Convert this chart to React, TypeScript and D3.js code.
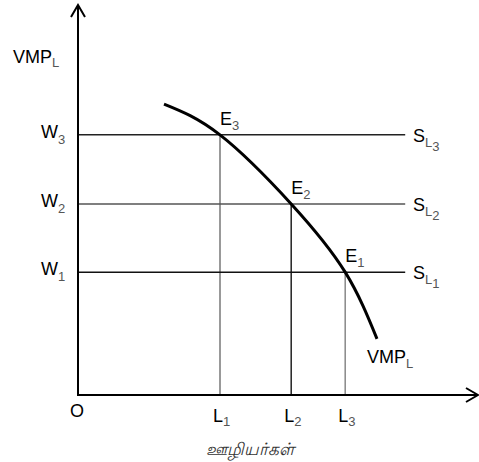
import React from "react";
import * as d3 from "d3";

const W = 479;
const H = 462;

// Labour quantities (x) where VMP meets wage lines
const laborLabels = ["1", "2", "3"];
const laborValues = [3.55, 5.33, 6.68];
// Wage levels (y)
const wageLabels = ["1", "2", "3"];
const wageValues = [3.15, 4.9, 6.67];
// VMP_L curve points
const curveX = [2.15, 3.55, 5.33, 6.68, 7.475];
const curveY = [7.46, 6.67, 4.9, 3.15, 1.44];
// horizontal supply lines end
const supplyEnd = 8.18;

const x = d3.scaleLinear().domain([0, 10]).range([78, 478]);
const y = d3.scaleLinear().domain([0, 10]).range([395, 5]);

const vColors = ["#777", "#222", "#888"];
const hColors = ["#111", "#555", "#222"];

export default function App() {
  const pts: [number, number][] = curveX.map((v, i) => [x(v), y(curveY[i])]);
  const line = d3.line().curve(d3.curveNatural)(pts) || "";
  const font = "'Liberation Sans', Arial, sans-serif";
  const sub = "#555";
  return (
    <svg
      width={W}
      height={H}
      style={{ position: "absolute", left: 0, top: 0, background: "#fff" }}
      fontFamily={font}
    >
      {/* vertical drop lines */}
      {laborValues.map((lv, i) => (
        <line
          key={"v" + i}
          x1={x(lv)}
          x2={x(lv)}
          y1={y(0)}
          y2={y(wageValues[2 - i])}
          stroke={vColors[i]}
          strokeWidth={1.5}
        />
      ))}
      {/* horizontal wage / supply lines */}
      {wageValues.map((wv, i) => (
        <line
          key={"h" + i}
          x1={x(0)}
          x2={x(supplyEnd)}
          y1={y(wv)}
          y2={y(wv)}
          stroke={hColors[i]}
          strokeWidth={1.5}
        />
      ))}
      {/* axes */}
      <line x1={x(0)} x2={x(0)} y1={y(0)} y2={y(10) + 0.5} stroke="#000" strokeWidth={2} />
      <line x1={x(0) - 1} x2={x(10)} y1={y(0)} y2={y(0)} stroke="#000" strokeWidth={2} />
      <polyline
        points={`${x(0) - 7},${y(10) + 12} ${x(0)},${y(10)} ${x(0) + 7},${y(10) + 12}`}
        fill="none"
        stroke="#000"
        strokeWidth={2}
      />
      <polyline
        points={`${x(10) - 12},${y(0) - 7} ${x(10)},${y(0)} ${x(10) - 12},${y(0) + 7}`}
        fill="none"
        stroke="#000"
        strokeWidth={2}
      />
      {/* VMP curve */}
      <path d={line} fill="none" stroke="#000" strokeWidth={3} />

      {/* y axis title */}
      <text x={13} y={63} fontSize={18} fill="#000">
        VMP<tspan fontSize={13} fill={sub} dy={4}>L</tspan>
      </text>
      {/* wage labels */}
      {wageValues.map((wv, i) => (
        <text key={"w" + i} x={41} y={y(wv) + 3} fontSize={18} fill="#000">
          W<tspan fontSize={13} fill={sub} dy={6}>{wageLabels[i]}</tspan>
        </text>
      ))}
      {/* supply labels */}
      {wageValues.map((wv, i) => (
        <text key={"s" + i} x={413} y={y(wv) + 7} fontSize={18} fill="#000">
          S<tspan fontSize={13} fill={sub} dy={5}>L</tspan>
          <tspan fontSize={13} fill={sub} dy={4}>{wageLabels[i]}</tspan>
        </text>
      ))}
      {/* equilibrium labels */}
      {laborValues.map((lv, i) => (
        <text key={"e" + i} x={x(lv)} y={y(wageValues[2 - i]) - 10} fontSize={18} fill="#000">
          E<tspan fontSize={13} fill={sub} dy={5}>{wageLabels[2 - i]}</tspan>
        </text>
      ))}
      {/* labour labels */}
      {laborValues.map((lv, i) => (
        <text key={"l" + i} x={x(lv) - 7} y={y(0) + 27} fontSize={18} fill="#000">
          L<tspan fontSize={13} fill={sub} dy={4}>{laborLabels[i]}</tspan>
        </text>
      ))}
      <text x={70} y={y(0) + 22} fontSize={18} fill="#000">O</text>
      {/* curve label */}
      <text x={367} y={363} fontSize={18} fill="#000">
        VMP<tspan fontSize={13} fill={sub} dy={5}>L</tspan>
      </text>
      {/* x axis title */}
      <text x={250} y={455} fontSize={17} fontStyle="italic" textAnchor="middle" fill="#333">
        ஊழியர்கள்
      </text>
    </svg>
  );
}
